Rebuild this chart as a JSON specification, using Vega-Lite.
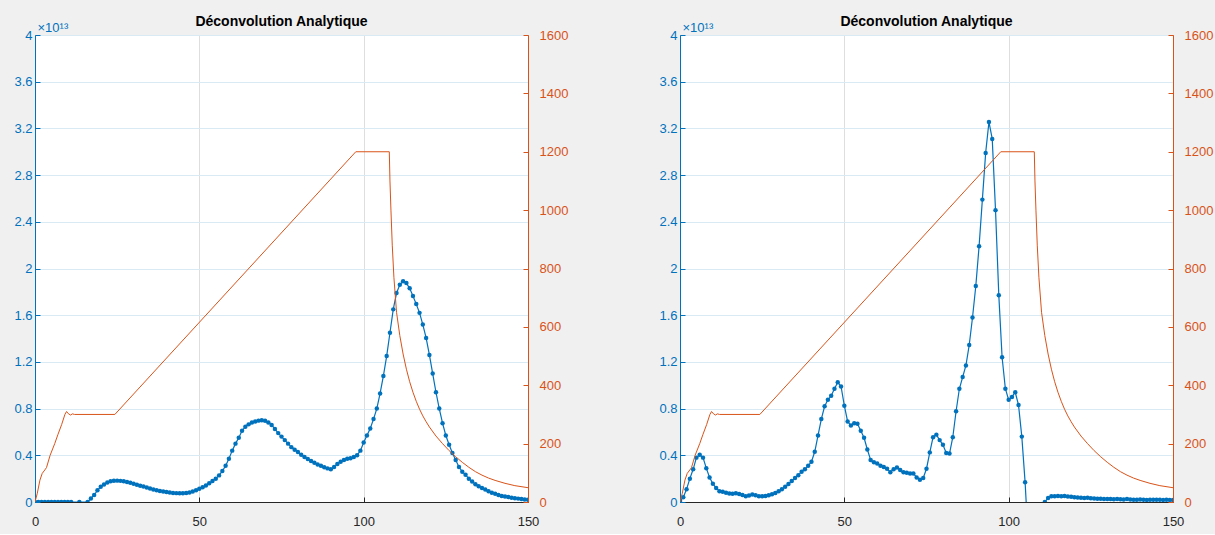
{
  "$schema": "https://vega.github.io/schema/vega-lite/v6.json",
  "background": "#f0f0f0",
  "padding": {"left": 13, "top": 14, "right": 5, "bottom": 5},
  "bounds": "flush",
  "spacing": 152,
  "config": {
    "font": "Liberation Sans",
    "view": {"fill": "white", "stroke": "#262626", "strokeWidth": 1},
    "title": {"font": "Liberation Sans", "fontSize": 14, "fontWeight": "bold", "color": "#000000", "offset": -8},
    "axis": {"labelFont": "Liberation Sans", "labelFontSize": 13, "tickSize": -5, "domainWidth": 1, "tickWidth": 1, "gridWidth": 1, "labelFlush": false}
  },
  "datasets": {
    "blueL": [
      {"x":0,"v":0},{"x":1,"v":0},{"x":2,"v":0},{"x":3,"v":0},{"x":4,"v":0},{"x":5,"v":0},{"x":6,"v":0},{"x":7,"v":0},{"x":8,"v":0},{"x":9,"v":0},{"x":10,"v":0},{"x":11,"v":0},{"x":13.5,"v":0},{"x":16,"v":0},
      {"x":17,"v":0.03},{"x":18,"v":0.06},{"x":19,"v":0.1},{"x":20,"v":0.13},{"x":21,"v":0.15},{"x":22,"v":0.167},{"x":23,"v":0.177},{"x":24,"v":0.182},{"x":25,"v":0.183},{"x":26,"v":0.181},{"x":27,"v":0.177},{"x":28,"v":0.171},{"x":29,"v":0.164},{"x":30,"v":0.156},
      {"x":31,"v":0.148},{"x":32,"v":0.14},{"x":33,"v":0.132},{"x":34,"v":0.124},{"x":35,"v":0.116},{"x":36,"v":0.108},{"x":37,"v":0.101},{"x":38,"v":0.095},{"x":39,"v":0.09},{"x":40,"v":0.085},
      {"x":41,"v":0.081},{"x":42,"v":0.078},{"x":43,"v":0.076},{"x":44,"v":0.075},{"x":45,"v":0.075},{"x":46,"v":0.078},{"x":47,"v":0.082},{"x":48,"v":0.09},{"x":49,"v":0.1},{"x":50,"v":0.113},
      {"x":51,"v":0.127},{"x":52,"v":0.142},{"x":53,"v":0.16},{"x":54,"v":0.18},{"x":55,"v":0.2},{"x":56,"v":0.228},{"x":57,"v":0.265},{"x":58,"v":0.31},{"x":59,"v":0.37},{"x":60,"v":0.44},
      {"x":61,"v":0.5},{"x":62,"v":0.55},{"x":63,"v":0.61},{"x":64,"v":0.645},{"x":65,"v":0.665},{"x":66,"v":0.68},{"x":67,"v":0.69},{"x":68,"v":0.697},{"x":69,"v":0.7},{"x":70,"v":0.695},
      {"x":71,"v":0.68},{"x":72,"v":0.66},{"x":73,"v":0.625},{"x":74,"v":0.59},{"x":75,"v":0.56},{"x":76,"v":0.53},{"x":77,"v":0.5},{"x":78,"v":0.47},{"x":79,"v":0.448},{"x":80,"v":0.428},
      {"x":81,"v":0.405},{"x":82,"v":0.385},{"x":83,"v":0.368},{"x":84,"v":0.352},{"x":85,"v":0.337},{"x":86,"v":0.322},{"x":87,"v":0.31},{"x":88,"v":0.298},{"x":89,"v":0.288},{"x":90,"v":0.28},
      {"x":91,"v":0.3},{"x":92,"v":0.325},{"x":93,"v":0.345},{"x":94,"v":0.36},{"x":95,"v":0.37},{"x":96,"v":0.375},{"x":97,"v":0.385},{"x":98,"v":0.4},{"x":99,"v":0.44},{"x":100,"v":0.51},
      {"x":101,"v":0.57},{"x":102,"v":0.63},{"x":103,"v":0.71},{"x":104,"v":0.8},{"x":105,"v":0.93},{"x":106,"v":1.08},{"x":107,"v":1.25},{"x":108,"v":1.45},{"x":109,"v":1.65},{"x":110,"v":1.79},
      {"x":111,"v":1.86},{"x":112,"v":1.89},{"x":113,"v":1.875},{"x":114,"v":1.83},{"x":115,"v":1.765},{"x":116,"v":1.695},{"x":117,"v":1.62},{"x":118,"v":1.52},{"x":119,"v":1.405},{"x":120,"v":1.26},
      {"x":121,"v":1.1},{"x":122,"v":0.94},{"x":123,"v":0.8},{"x":124,"v":0.675},{"x":125,"v":0.57},{"x":126,"v":0.49},{"x":127,"v":0.42},{"x":128,"v":0.36},{"x":129,"v":0.3},{"x":130,"v":0.26},
      {"x":131,"v":0.233},{"x":132,"v":0.2},{"x":133,"v":0.175},{"x":134,"v":0.152},{"x":135,"v":0.134},{"x":136,"v":0.12},{"x":137,"v":0.108},{"x":138,"v":0.093},{"x":139,"v":0.079},{"x":140,"v":0.07},
      {"x":141,"v":0.06},{"x":142,"v":0.052},{"x":143,"v":0.047},{"x":144,"v":0.042},{"x":145,"v":0.037},{"x":146,"v":0.033},{"x":147,"v":0.029},{"x":148,"v":0.025},{"x":149,"v":0.021},{"x":150,"v":0.019}
    ],
    "blueR": [
      {"x":0,"v":0.01},{"x":1,"v":0.04},{"x":2,"v":0.11},{"x":3,"v":0.2},{"x":4,"v":0.28},{"x":5,"v":0.38},{"x":6,"v":0.405},{"x":7,"v":0.38},{"x":8,"v":0.29},{"x":9,"v":0.21},{"x":10,"v":0.156},
      {"x":11,"v":0.12},{"x":12,"v":0.093},{"x":13,"v":0.088},{"x":14,"v":0.08},{"x":15,"v":0.072},{"x":16,"v":0.07},{"x":17,"v":0.075},{"x":18,"v":0.068},{"x":19,"v":0.06},{"x":20,"v":0.05},
      {"x":21,"v":0.055},{"x":22,"v":0.065},{"x":23,"v":0.057},{"x":24,"v":0.05},{"x":25,"v":0.05},{"x":26,"v":0.052},{"x":27,"v":0.058},{"x":28,"v":0.066},{"x":29,"v":0.078},{"x":30,"v":0.092},
      {"x":31,"v":0.11},{"x":32,"v":0.13},{"x":33,"v":0.155},{"x":34,"v":0.18},{"x":35,"v":0.205},{"x":36,"v":0.23},{"x":37,"v":0.26},{"x":38,"v":0.28},{"x":39,"v":0.31},{"x":40,"v":0.345},
      {"x":41,"v":0.43},{"x":42,"v":0.57},{"x":43,"v":0.71},{"x":44,"v":0.82},{"x":45,"v":0.875},{"x":46,"v":0.91},{"x":47,"v":0.97},{"x":48,"v":1.025},{"x":49,"v":0.99},{"x":50,"v":0.825},
      {"x":51,"v":0.69},{"x":52,"v":0.655},{"x":53,"v":0.675},{"x":54,"v":0.67},{"x":55,"v":0.61},{"x":56,"v":0.55},{"x":57,"v":0.45},{"x":58,"v":0.36},{"x":59,"v":0.34},{"x":60,"v":0.33},
      {"x":61,"v":0.31},{"x":62,"v":0.3},{"x":63,"v":0.285},{"x":64,"v":0.255},{"x":65,"v":0.28},{"x":66,"v":0.295},{"x":67,"v":0.275},{"x":68,"v":0.255},{"x":69,"v":0.25},{"x":70,"v":0.245},
      {"x":71,"v":0.245},{"x":72,"v":0.21},{"x":73,"v":0.19},{"x":74,"v":0.205},{"x":75,"v":0.285},{"x":76,"v":0.425},{"x":77,"v":0.555},{"x":78,"v":0.577},{"x":79,"v":0.53},{"x":80,"v":0.49},
      {"x":81,"v":0.42},{"x":82,"v":0.415},{"x":83,"v":0.555},{"x":84,"v":0.777},{"x":85,"v":0.97},{"x":86,"v":1.07},{"x":87,"v":1.17},{"x":88,"v":1.345},{"x":89,"v":1.58},{"x":90,"v":1.85},
      {"x":91,"v":2.19},{"x":92,"v":2.59},{"x":93,"v":2.99},{"x":94,"v":3.255},{"x":95,"v":3.11},{"x":96,"v":2.5},{"x":97,"v":1.77},{"x":98,"v":1.24},{"x":99,"v":0.97},{"x":100,"v":0.875},
      {"x":101,"v":0.9},{"x":102,"v":0.94},{"x":103,"v":0.83},{"x":104,"v":0.56},{"x":105,"v":0.17},{"x":106,"v":-0.35},{"x":107,"v":-0.7},{"x":108,"v":-0.8},{"x":109,"v":-0.7},{"x":110,"v":-0.45},
      {"x":111,"v":0.0},{"x":112,"v":0.035},{"x":113,"v":0.05},{"x":114,"v":0.05},{"x":115,"v":0.052},{"x":116,"v":0.05},{"x":117,"v":0.052},{"x":118,"v":0.047},{"x":119,"v":0.045},{"x":120,"v":0.04},
      {"x":121,"v":0.038},{"x":122,"v":0.036},{"x":123,"v":0.035},{"x":124,"v":0.037},{"x":125,"v":0.033},{"x":126,"v":0.03},{"x":127,"v":0.028},{"x":128,"v":0.027},{"x":129,"v":0.026},{"x":130,"v":0.025},
      {"x":131,"v":0.026},{"x":132,"v":0.024},{"x":133,"v":0.025},{"x":134,"v":0.023},{"x":135,"v":0.022},{"x":136,"v":0.025},{"x":137,"v":0.022},{"x":138,"v":0.02},{"x":139,"v":0.02},{"x":140,"v":0.021},
      {"x":141,"v":0.019},{"x":142,"v":0.018},{"x":143,"v":0.02},{"x":144,"v":0.019},{"x":145,"v":0.02},{"x":146,"v":0.019},{"x":147,"v":0.018},{"x":148,"v":0.02},{"x":149,"v":0.018},{"x":150,"v":0.017}
    ],
    "temp": [
      {"x":0,"T":0},{"x":0.7,"T":30},{"x":1.5,"T":75},{"x":2.2,"T":98},{"x":3,"T":110},{"x":3.5,"T":118},{"x":4.6,"T":160},{"x":6,"T":200},{"x":7,"T":232},{"x":8.1,"T":265},{"x":9.1,"T":300},
      {"x":9.6,"T":310},{"x":10.2,"T":302},{"x":10.8,"T":298},{"x":11.4,"T":302},{"x":12,"T":300},{"x":24.3,"T":300},{"x":97.6,"T":1200},{"x":107.8,"T":1200},
      {"x":108,"T":1100},{"x":108.3,"T":1000},{"x":108.7,"T":880},{"x":109.2,"T":770},{"x":110,"T":650},{"x":111,"T":570},{"x":112,"T":507},{"x":113,"T":455},{"x":114,"T":412},{"x":115,"T":376},
      {"x":116,"T":345},{"x":117,"T":318},{"x":118,"T":295},{"x":119,"T":275},{"x":120,"T":257},{"x":122,"T":226},{"x":124,"T":200},{"x":126,"T":176},{"x":128,"T":155},{"x":130,"T":136},
      {"x":132,"T":119},{"x":134,"T":104},{"x":136,"T":92},{"x":138,"T":82},{"x":140,"T":74},{"x":143,"T":64},{"x":146,"T":56},{"x":150,"T":49}
    ]
  },
  "hconcat": [
    {
      "title": "Déconvolution Analytique",
      "width": 493,
      "height": 467,
      "layer": [
        {
          "data": {"name": "blueL"},
          "encoding": {
            "x": {"field": "x", "type": "quantitative", "scale": {"domain": [0, 150], "nice": false}, "axis": {"values": [0, 50, 100, 150], "title": null, "grid": true, "gridColor": "#dedede", "labelColor": "#262626", "domainColor": "#262626", "tickColor": "#262626", "labelPadding": 18, "labelFlush": false}},
            "y": {"field": "v", "type": "quantitative", "scale": {"domain": [0, 4], "nice": false}, "axis": {"values": [0, 0.4, 0.8, 1.2, 1.6, 2, 2.4, 2.8, 3.2, 3.6, 4], "format": "~g", "labelPadding": 8, "grid": true, "gridColor": "#d9eaf5", "labelColor": "#0072BD", "domainColor": "#0072BD", "tickColor": "#0072BD", "title": "×10¹³", "titleAngle": 0, "titleX": 2, "titleY": -4, "titleAlign": "left", "titleBaseline": "alphabetic", "titleColor": "#0072BD", "titleFontSize": 13, "titleFontWeight": "normal", "titleFont": "Liberation Sans"}}
          },
          "layer": [
            {"mark": {"type": "line", "color": "#0072BD", "strokeWidth": 1.2, "clip": true}},
            {"mark": {"type": "point", "filled": true, "size": 20, "color": "#0072BD", "opacity": 1, "clip": true}}
          ]
        },
        {
          "data": {"name": "temp"},
          "mark": {"type": "line", "color": "#D95319", "strokeWidth": 1, "clip": true},
          "encoding": {
            "x": {"field": "x", "type": "quantitative"},
            "y": {"field": "T", "type": "quantitative", "scale": {"domain": [0, 1600], "nice": false}, "axis": {"orient": "right", "values": [0, 200, 400, 600, 800, 1000, 1200, 1400, 1600], "format": "d", "labelPadding": 16, "grid": false, "title": null, "labelColor": "#D95319", "domainColor": "#D95319", "tickColor": "#D95319"}}
          }
        }
      ],
      "resolve": {"scale": {"y": "independent"}}
    },
    {
      "title": "Déconvolution Analytique",
      "width": 493,
      "height": 467,
      "layer": [
        {
          "data": {"name": "blueR"},
          "encoding": {
            "x": {"field": "x", "type": "quantitative", "scale": {"domain": [0, 150], "nice": false}, "axis": {"values": [0, 50, 100, 150], "title": null, "grid": true, "gridColor": "#dedede", "labelColor": "#262626", "domainColor": "#262626", "tickColor": "#262626", "labelPadding": 18, "labelFlush": false}},
            "y": {"field": "v", "type": "quantitative", "scale": {"domain": [0, 4], "nice": false}, "axis": {"values": [0, 0.4, 0.8, 1.2, 1.6, 2, 2.4, 2.8, 3.2, 3.6, 4], "format": "~g", "labelPadding": 8, "grid": true, "gridColor": "#d9eaf5", "labelColor": "#0072BD", "domainColor": "#0072BD", "tickColor": "#0072BD", "title": "×10¹³", "titleAngle": 0, "titleX": 2, "titleY": -4, "titleAlign": "left", "titleBaseline": "alphabetic", "titleColor": "#0072BD", "titleFontSize": 13, "titleFontWeight": "normal", "titleFont": "Liberation Sans"}}
          },
          "layer": [
            {"mark": {"type": "line", "color": "#0072BD", "strokeWidth": 1.2, "clip": true}},
            {"mark": {"type": "point", "filled": true, "size": 20, "color": "#0072BD", "opacity": 1, "clip": true}}
          ]
        },
        {
          "data": {"name": "temp"},
          "mark": {"type": "line", "color": "#D95319", "strokeWidth": 1, "clip": true},
          "encoding": {
            "x": {"field": "x", "type": "quantitative"},
            "y": {"field": "T", "type": "quantitative", "scale": {"domain": [0, 1600], "nice": false}, "axis": {"orient": "right", "values": [0, 200, 400, 600, 800, 1000, 1200, 1400, 1600], "format": "d", "labelPadding": 16, "grid": false, "title": null, "labelColor": "#D95319", "domainColor": "#D95319", "tickColor": "#D95319"}}
          }
        }
      ],
      "resolve": {"scale": {"y": "independent"}}
    }
  ]
}
